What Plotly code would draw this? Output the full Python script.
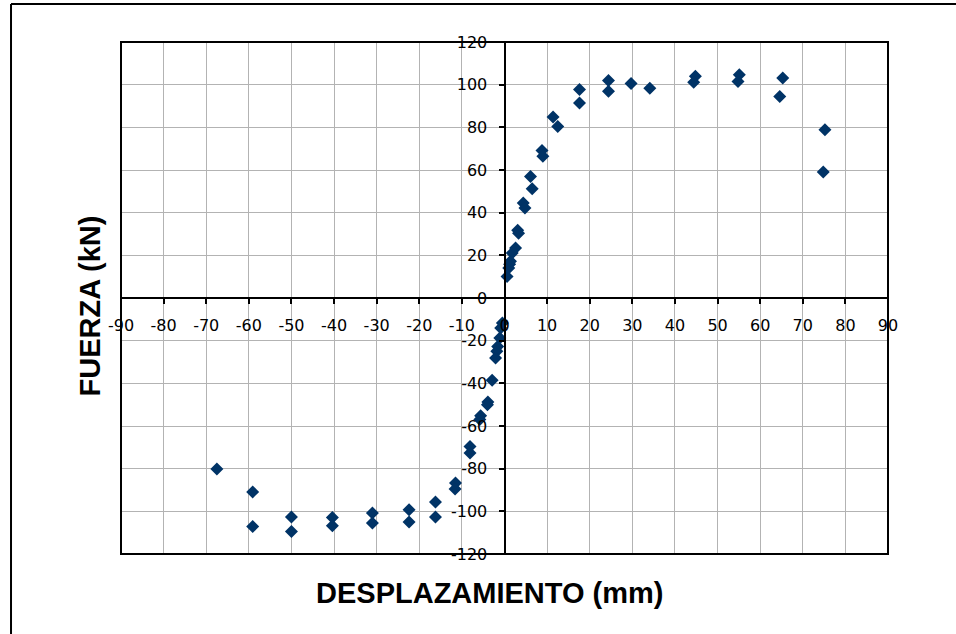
import plotly.graph_objects as go

# Data (displacement mm, force kN)
desplazamiento = [
    0.6, 1.0, 1.2, 1.4, 1.8, 2.6, 3.1, 3.3, 4.4, 4.8, 6.1, 6.5, 8.8, 9.0,
    11.4, 12.5, 17.6, 17.6, 24.4, 24.4, 29.7, 34.1, 44.8, 44.4, 55.1, 54.8,
    65.3, 64.6, 75.2, 74.8,
    -0.5, -0.9, -1.1, -1.6, -1.8, -2.1, -2.9, -3.9, -4.0, -5.6, -5.8, -8.1,
    -8.1, -11.5, -11.6, -16.2, -16.2, -22.4, -22.4, -31.0, -31.0, -40.4,
    -40.4, -50.0, -50.0, -59.1, -59.1, -67.5,
]
fuerza = [
    10.1, 14.1, 15.8, 17.2, 21.1, 23.4, 31.7, 30.3, 44.5, 42.2, 57.0, 51.2,
    69.1, 66.4, 84.9, 80.4, 97.7, 91.4, 102.0, 96.9, 100.5, 98.3, 103.9,
    101.1, 104.7, 101.5, 103.1, 94.5, 78.9, 59.1,
    -11.7, -14.1, -18.8, -22.7, -25.0, -28.1, -38.6, -48.8, -50.0, -55.2,
    -57.0, -69.6, -72.7, -86.7, -89.5, -95.6, -102.7, -99.3, -105.0, -100.8,
    -105.5, -102.9, -106.8, -102.7, -109.4, -90.9, -107.1, -80.2,
]

x_ticks = list(range(-90, 91, 10))
x_tick_labels = [str(v) for v in x_ticks]
y_ticks = list(range(-120, 121, 20))
y_tick_labels = [str(v) for v in y_ticks]

fig = go.Figure()
fig.add_trace(go.Scatter(
    x=desplazamiento, y=fuerza, mode="markers",
    marker=dict(symbol="diamond", size=10, color="#003366",
                line=dict(width=0)),
    showlegend=False,
))

tickfont = dict(family="DejaVu Sans", size=16, color="black")
fig.update_layout(
    width=956, height=634,
    margin=dict(l=121, r=68, t=42, b=80),
    paper_bgcolor="white", plot_bgcolor="white",
    xaxis=dict(
        range=[-90, 90], tickvals=x_ticks, ticktext=x_tick_labels,
        anchor="free", position=0.5,
        showgrid=True, gridcolor="#b3b3b3", gridwidth=1,
        zeroline=False, showline=True, linecolor="black", linewidth=2,
        ticks="outside", ticklen=5, tickwidth=2, tickcolor="black",
        ticklabelstandoff=8, tickfont=tickfont,
    ),
    yaxis=dict(
        range=[-120, 120], tickvals=y_ticks, ticktext=y_tick_labels,
        anchor="free", position=0.5,
        showgrid=True, gridcolor="#b3b3b3", gridwidth=1,
        zeroline=False, showline=True, linecolor="black", linewidth=2,
        ticks="outside", ticklen=5, tickwidth=2, tickcolor="black",
        ticklabelstandoff=8, tickfont=tickfont,
    ),
    shapes=[
        dict(type="rect", xref="paper", yref="paper", x0=0, x1=1, y0=0, y1=1,
             line=dict(color="black", width=2), layer="above"),
        dict(type="line", xref="paper", yref="paper", x0=-0.1434, x1=-0.1434,
             y0=-0.3, y1=1.0742, line=dict(color="black", width=2)),
        dict(type="line", xref="paper", yref="paper", x0=-0.1434, x1=1.2,
             y0=1.0742, y1=1.0742, line=dict(color="black", width=2)),
    ],
    annotations=[
        dict(text="<b>DESPLAZAMIENTO (mm)</b>", xref="paper", yref="paper",
             x=0.481, y=-0.076, showarrow=False, xanchor="center",
             yanchor="middle",
             font=dict(family="Liberation Sans", size=29, color="black")),
        dict(text="<b>FUERZA (kN)</b>", xref="paper", yref="paper",
             x=-0.040, y=0.484, showarrow=False, textangle=-90,
             xanchor="center", yanchor="middle",
             font=dict(family="Liberation Sans", size=29, color="black")),
    ],
)

fig.write_html(
    "out.html",
    config={"displayModeBar": False},
    post_script="document.body.style.margin='0';document.body.style.overflow='hidden';",
)
